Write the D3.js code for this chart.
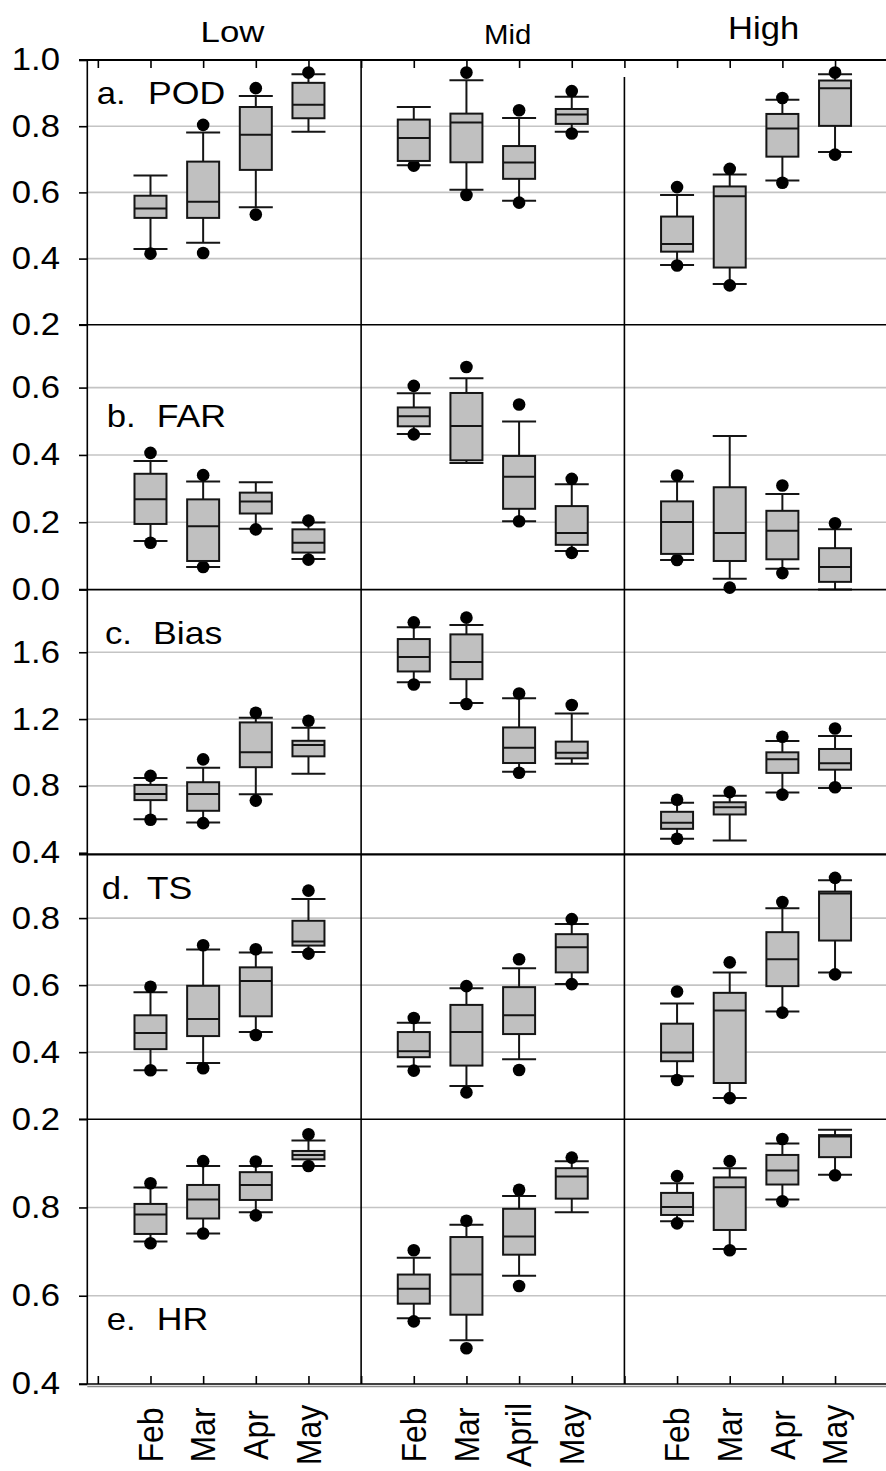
<!DOCTYPE html>
<html>
<head>
<meta charset="utf-8">
<script src="https://cdn.jsdelivr.net/npm/d3@7"></script>
<style>
  html, body { margin: 0; padding: 0; background: #fff; }
  svg { display: block; font-family: "Liberation Sans", Arial, Helvetica, sans-serif; }
</style>
</head>
<body>
<svg id="chart" width="886" height="1471"></svg>
<script>
// ---- data ---------------------------------------------------------------
const regions = ["Low", "Mid", "High"];
const monthsLow = ["Feb", "Mar", "Apr", "May"];
const monthsMid = ["Feb", "Mar", "April", "May"];
const monthsHigh = ["Feb", "Mar", "Apr", "May"];
const metrics = ["POD", "FAR", "Bias", "TS", "HR"];
const panelLetters = ["a.", "b.", "c.", "d.", "e."];

// one row per box, Low Feb..May, Mid Feb..May, High Feb..May
// [whiskerLow, q1, median, q3, whiskerHigh, lowOutlier, highOutlier]
const POD = [
  [0.429, 0.523, 0.551, 0.590, 0.651, 0.415, null],
  [0.448, 0.523, 0.572, 0.693, 0.781, 0.417, 0.804],
  [0.555, 0.668, 0.774, 0.858, 0.891, 0.533, 0.915],
  [0.783, 0.824, 0.865, 0.931, 0.957, null, 0.962],
  [0.682, 0.695, 0.764, 0.820, 0.858, 0.681, null],
  [0.608, 0.691, 0.811, 0.838, 0.939, 0.592, 0.962],
  [0.575, 0.641, 0.690, 0.740, 0.825, 0.569, 0.848],
  [0.783, 0.807, 0.835, 0.852, 0.889, 0.778, 0.906],
  [0.381, 0.421, 0.444, 0.527, 0.592, 0.379, 0.616],
  [0.323, 0.373, 0.588, 0.618, 0.654, 0.319, 0.671],
  [0.636, 0.708, 0.793, 0.837, 0.880, 0.629, 0.885],
  [0.722, 0.801, 0.915, 0.938, 0.957, 0.714, 0.962]
];
const FAR = [
  [0.144, 0.195, 0.268, 0.344, 0.382, 0.139, 0.406],
  [0.067, 0.085, 0.188, 0.268, 0.321, 0.067, 0.340],
  [0.181, 0.226, 0.262, 0.288, 0.319, 0.179, null],
  [0.091, 0.110, 0.139, 0.179, 0.199, 0.089, 0.205],
  [0.462, 0.485, 0.515, 0.541, 0.583, 0.461, 0.605],
  [0.376, 0.384, 0.486, 0.584, 0.628, null, 0.661],
  [0.203, 0.240, 0.335, 0.397, 0.499, 0.203, 0.550],
  [0.115, 0.133, 0.168, 0.248, 0.313, 0.109, 0.329],
  [0.088, 0.106, 0.201, 0.262, 0.321, 0.088, 0.339],
  [0.032, 0.085, 0.168, 0.304, 0.456, 0.006, null],
  [0.062, 0.090, 0.175, 0.234, 0.284, 0.049, 0.309],
  [0.000, 0.023, 0.067, 0.123, 0.179, null, 0.197]
];
const Bias = [
  [0.601, 0.715, 0.752, 0.806, 0.848, 0.597, 0.860],
  [0.581, 0.651, 0.752, 0.822, 0.909, 0.577, 0.959],
  [0.750, 0.912, 1.001, 1.180, 1.208, 0.712, 1.238],
  [0.872, 0.977, 1.045, 1.070, 1.148, null, 1.190],
  [1.421, 1.485, 1.572, 1.679, 1.749, 1.407, 1.779],
  [1.296, 1.439, 1.542, 1.707, 1.763, 1.290, 1.807],
  [0.884, 0.937, 1.029, 1.150, 1.324, 0.879, 1.353],
  [0.933, 0.965, 0.999, 1.065, 1.234, null, 1.284],
  [0.484, 0.543, 0.579, 0.645, 0.699, 0.484, 0.717],
  [0.473, 0.629, 0.672, 0.702, 0.741, null, 0.763],
  [0.760, 0.878, 0.959, 1.001, 1.069, 0.748, 1.094],
  [0.788, 0.897, 0.936, 1.021, 1.099, 0.792, 1.144]
];
const TS = [
  [0.346, 0.409, 0.457, 0.510, 0.579, 0.346, 0.595],
  [0.368, 0.448, 0.499, 0.598, 0.706, 0.352, 0.719],
  [0.460, 0.507, 0.612, 0.653, 0.697, 0.451, 0.707],
  [0.699, 0.718, 0.730, 0.792, 0.857, 0.694, 0.882],
  [0.357, 0.385, 0.403, 0.460, 0.488, 0.345, 0.502],
  [0.299, 0.360, 0.460, 0.541, 0.591, 0.280, 0.597],
  [0.379, 0.454, 0.510, 0.594, 0.650, 0.347, 0.677],
  [0.603, 0.638, 0.713, 0.752, 0.782, 0.603, 0.797],
  [0.328, 0.373, 0.399, 0.485, 0.545, 0.317, 0.581],
  [0.263, 0.308, 0.524, 0.577, 0.638, 0.263, 0.668],
  [0.521, 0.597, 0.677, 0.758, 0.829, 0.518, 0.848],
  [0.638, 0.733, 0.873, 0.879, 0.913, 0.632, 0.920]
];
const HR = [
  [0.723, 0.740, 0.784, 0.808, 0.845, 0.719, 0.855],
  [0.741, 0.775, 0.818, 0.851, 0.894, 0.741, 0.905],
  [0.789, 0.817, 0.851, 0.880, 0.894, 0.782, 0.904],
  [0.894, 0.909, 0.919, 0.928, 0.952, 0.894, 0.966],
  [0.549, 0.582, 0.616, 0.648, 0.686, 0.542, 0.703],
  [0.499, 0.557, 0.648, 0.733, 0.761, 0.481, 0.770],
  [0.645, 0.693, 0.734, 0.797, 0.826, 0.622, 0.840],
  [0.789, 0.820, 0.870, 0.889, 0.905, null, 0.913],
  [0.769, 0.783, 0.801, 0.833, 0.855, 0.764, 0.871],
  [0.706, 0.749, 0.846, 0.868, 0.889, 0.703, 0.905],
  [0.818, 0.852, 0.884, 0.919, 0.945, 0.814, 0.955],
  [0.874, 0.914, 0.961, 0.964, 0.976, 0.873, null]
];

// y tick labels per row
const podTicks = [1.0, 0.8, 0.6, 0.4, 0.2];
const farTicks = [0.6, 0.4, 0.2, 0.0];
const biasTicks = [1.6, 1.2, 0.8, 0.4];
const tsTicks = [0.8, 0.6, 0.4, 0.2];
const hrTicks = [0.8, 0.6, 0.4];

// ---- layout ---------------------------------------------------------------
const W = 886, H = 1471;
const rowEdges = [60, 324.8, 589.6, 854.4, 1119.2, 1384];
const rowDomains = [[0.2, 1.0], [0, 0.7865], [0.39, 1.975], [0.2, 0.99], [0.4, 1.0]];
const rowData = [POD, FAR, Bias, TS, HR];
const rowTicks = [podTicks, farTicks, biasTicks, tsTicks, hrTicks];
const monthSets = [monthsLow, monthsMid, monthsHigh];

const axisX = 87.3, tickLeft = 79, rightX = 888;
const boxW = 32, capW = 34, dotR = 6.3;
const boxFill = "#c0c0c0", ink = "#151515", gridCol = "#c4c4c4";

// shared x: slot 0 is an empty lead position, regions occupy slots 1-4, 6-9, 11-14
const x = d3.scaleLinear().domain([-0.2, 15]).range([axisX, 887.7]);
const slotOf = (g, m) => g * 5 + m + 1;

const svg = d3.select("#chart");
svg.append("rect").attr("width", W).attr("height", H).attr("fill", "#fff");

const yScales = rowDomains.map((d, r) =>
  d3.scaleLinear().domain(d).range([rowEdges[r + 1], rowEdges[r]]));

// gridlines
const gridG = svg.append("g");
yScales.forEach((y, r) => {
  const [lo, hi] = rowDomains[r];
  rowTicks[r].filter(v => v > lo + 0.02 && v < hi - 0.02).forEach(v => {
    gridG.append("line")
      .attr("x1", axisX).attr("x2", rightX)
      .attr("y1", y(v)).attr("y2", y(v))
      .attr("stroke", gridCol).attr("stroke-width", 1.6);
  });
});

// box plots
const boxG = svg.append("g");
rowData.forEach((rows, r) => {
  const y = yScales[r];
  rows.forEach((d, i) => {
    const g = Math.floor(i / 4), m = i % 4;
    const cx = x(slotOf(g, m));
    const [wl, q1, med, q3, wh, olo, ohi] = d;
    const b = boxG.append("g");
    // whisker stems
    b.append("line").attr("x1", cx).attr("x2", cx).attr("y1", y(wh)).attr("y2", y(q3))
      .attr("stroke", ink).attr("stroke-width", 2);
    b.append("line").attr("x1", cx).attr("x2", cx).attr("y1", y(q1)).attr("y2", y(wl))
      .attr("stroke", ink).attr("stroke-width", 2);
    // caps
    [wl, wh].forEach(v => {
      b.append("line").attr("x1", cx - capW / 2).attr("x2", cx + capW / 2)
        .attr("y1", y(v)).attr("y2", y(v))
        .attr("stroke", ink).attr("stroke-width", 2);
    });
    // outliers
    [olo, ohi].filter(v => v !== null).forEach(v => {
      b.append("circle").attr("cx", cx).attr("cy", y(v)).attr("r", dotR).attr("fill", "#000");
    });
    // box and median
    b.append("rect")
      .attr("x", cx - boxW / 2).attr("y", y(q3))
      .attr("width", boxW).attr("height", y(q1) - y(q3))
      .attr("fill", boxFill).attr("stroke", ink).attr("stroke-width", 2);
    b.append("line").attr("x1", cx - boxW / 2).attr("x2", cx + boxW / 2)
      .attr("y1", y(med)).attr("y2", y(med))
      .attr("stroke", ink).attr("stroke-width", 2);
  });
});

// frame: row separators, left axis, region dividers
const frame = svg.append("g").attr("stroke", "#000");
rowEdges.forEach((yy, k) => {
  frame.append("line").attr("x1", tickLeft).attr("x2", rightX)
    .attr("y1", yy).attr("y2", yy)
    .attr("stroke-width", (k === 0 || k === 3) ? 2.2 : 1.6);
});
svg.append("line").attr("x1", axisX).attr("x2", rightX)
  .attr("y1", 1386.5).attr("y2", 1386.5)
  .attr("stroke", "#8a8a8a").attr("stroke-width", 1.6);
frame.append("line").attr("x1", axisX).attr("x2", axisX)
  .attr("y1", 60).attr("y2", 1384).attr("stroke-width", 1.6);
frame.append("line").attr("x1", x(5)).attr("x2", x(5))
  .attr("y1", 60).attr("y2", 1384).attr("stroke-width", 1.6);
frame.append("line").attr("x1", x(10)).attr("x2", x(10))
  .attr("y1", 77).attr("y2", 1384).attr("stroke-width", 1.6);

// top and bottom slot ticks
const slots = d3.range(0, 16);
const topAxis = svg.append("g").attr("transform", `translate(0,${rowEdges[0]})`)
  .call(d3.axisBottom(x).tickValues(slots).tickSize(8).tickFormat(""));
const botAxis = svg.append("g").attr("transform", `translate(0,${rowEdges[5]})`)
  .call(d3.axisTop(x).tickValues(slots).tickSize(8).tickFormat(""));
[topAxis, botAxis].forEach(a => {
  a.select(".domain").remove();
  a.selectAll(".tick line").attr("stroke", "#000").attr("stroke-width", 1.6);
});

// y axes per row
const tickSX = 1.12;
yScales.forEach((y, r) => {
  const a = svg.append("g").attr("transform", `translate(${axisX},0)`)
    .call(d3.axisLeft(y).tickValues(rowTicks[r]).tickSize(axisX - tickLeft)
      .tickPadding(19).tickFormat(d3.format(".1f")));
  a.select(".domain").remove();
  a.selectAll(".tick line").attr("stroke", "#000").attr("stroke-width", 1.6);
  a.selectAll(".tick text")
    .attr("font-size", 31).attr("fill", "#000")
    .attr("font-family", "'Liberation Sans', Arial, sans-serif")
    .each(function () {
      const t = d3.select(this);
      t.attr("x", +t.attr("x") / tickSX).attr("transform", `scale(${tickSX},1)`);
    });
});

// stretched text helper
function label(txt, px, py, size, sx, anchor) {
  return svg.append("text")
    .attr("transform", `translate(${px},${py}) scale(${sx},1)`)
    .attr("text-anchor", anchor || "start")
    .attr("font-size", size).attr("fill", "#000")
    .text(txt);
}

// region titles
const titlePos = [[232.5, 42, 29, 1.2], [507.7, 44, 28, 1.05], [763.6, 38.5, 32, 1.08]];
regions.forEach((t, g) => {
  const [px, py, fs, sx] = titlePos[g];
  label(t, px, py, fs, sx, "middle");
});

// panel labels
const panelPos = [[96.7, 148, 104], [106.7, 156.7, 426.7], [105, 153, 644.3], [101.7, 146.7, 899], [106.7, 156.7, 1330]];
metrics.forEach((name, r) => {
  const [lx, nx, by] = panelPos[r];
  label(panelLetters[r], lx, by, 31, 1.12);
  label(name, nx, by, 31, 1.15);
});

// month labels under each box column
monthSets.forEach((ms, g) => {
  ms.forEach((mName, m) => {
    svg.append("g")
      .attr("transform", `translate(${x(slotOf(g, m))},1435) rotate(-90) scale(1,1.1)`)
      .append("text")
      .attr("text-anchor", "middle").attr("dy", "0.35em")
      .attr("font-size", 32).attr("fill", "#000")
      .text(mName);
  });
});
</script>
</body>
</html>
